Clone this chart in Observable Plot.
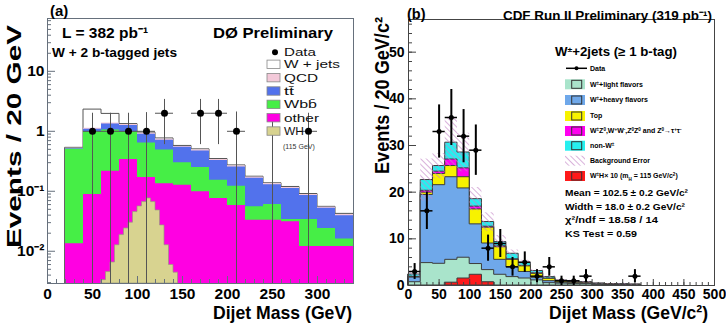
<!DOCTYPE html>
<html><head><meta charset="utf-8">
<script src="https://cdn.jsdelivr.net/npm/d3@7"></script>
<script src="https://cdn.jsdelivr.net/npm/@observablehq/plot@0.6"></script>
<style>
body{margin:0;background:#fff;}
#wrap{position:relative;width:726px;height:326px;overflow:hidden;}
#wrap svg{position:absolute;top:0;}
</style></head><body><div id="wrap"></div>
<script>
// ================= Panel (a): D0, W + 2 b-tagged jets (stacked tops, events / 20 GeV)
const binLoA     = [20,40,60,80,100,120,140,160,180,200,220,240,260,280,300,320];
const wjetsTopA  = [0.53,2.3,1.95,1.32,0.95,0.76,0.57,0.50,0.345,0.27,0.175,0.136,0.118,0.090,0.055,0.042];
const qcdTopA    = [0.52,1.12,1.38,1.30,0.93,0.74,0.56,0.49,0.340,0.265,0.172,0.133,0.116,0.088,0.054,0.041];
const ttTopA     = [0.51,1.08,1.33,1.25,0.89,0.71,0.54,0.47,0.325,0.255,0.165,0.128,0.111,0.085,0.052,0.039];
const wbbTopA    = [0.50,0.98,1.05,0.98,0.64,0.49,0.30,0.25,0.152,0.121,0.055,0.060,0.034,0.034,0.024,0.016];
const otherTopA  = [0.0134,0.088,0.215,0.34,0.17,0.134,0.126,0.098,0.076,0.058,0.033,0.033,0.031,0.012,0.012,0.012];
// WH (115 GeV) signal, 5 GeV bins
const whLoA  = [60,65,70,75,80,85,90,95,100,105,110,115,120,125,130,135,140];
const whValA = [0.0033,0.0045,0.0065,0.0126,0.0186,0.024,0.030,0.045,0.056,0.066,0.076,0.066,0.048,0.027,0.0126,0.0059,0.0044];
// data points and error-bar ends
const dataXA  = [50,70,90,110,130,170,190,210,250,290];
const dataYA  = [1,1,1,1,2,2,2,1,0,1];
const errLoA  = [0,0,0,0,0.6,0.6,0.6,0,0,0];
const errHiA  = [2.0,2.0,2.0,2.05,3.4,3.4,3.4,2.1,1.8,2.0];
const xTicksA = [0,50,100,150,200,250,300];
const yTicksA = [0.01,0.1,1,10];
const yTickLabelsA = ["10\u207B\u00B2","10\u207B\u00B9","1","10"];
const legendLabelsA = ["W + jets", "QCD", "tt\u0304", "Wbb\u0304", "other", "WH"];

// ================= Panel (b): CDF, W+2jets (>=1 b-tag) (stacked tops, events / 20 GeV/c2)
const binLoB    = [0,20,40,60,80,100,120,140,160,180,200,220,240,260,280,300,320,340,360];
const lightTopB = [0.7,4.8,4.65,5.5,5.95,4.6,3.3,2.3,1.8,1.5,1.1,0.5,0.4,0.3,0.3,0.15,0.1,0.08,0.05];
const heavyTopB = [1.7,19.4,21.5,23.2,20.8,13.1,9.0,5.5,3.9,2.9,1.65,0.93,0.6,0.5,0.45,0.25,0.2,0.15,0.1];
const topTopB   = [1.8,19.9,23.9,25.6,23.2,16.3,12.4,8.2,5.5,4.1,2.5,1.43,0.9,0.75,0.6,0.35,0.25,0.2,0.15];
const wzTopB    = [1.85,20.3,24.4,27.0,25.1,16.9,12.6,8.4,5.6,4.2,2.6,1.5,0.95,0.8,0.62,0.37,0.26,0.21,0.16];
const nonWTopB  = [2.35,22.6,25.6,30.6,28.5,18.5,13.6,9.3,6.8,4.8,3.1,1.8,1.07,0.9,0.7,0.4,0.3,0.25,0.2];
const bkgErrB   = [0.5,4.5,2.7,5.2,4.1,2.5,2.0,1.4,0.8,0.6,0.4,0.3,0.2,0.2,0.15,0.1,0.1,0.1,0.1];
const whLoB     = [60,80,100,120];
const whValB    = [0.6,1.5,2.3,0.7];
const dataXB    = [10,30,50,70,90,110,130,150,170,190,210,230,250,270,290,370];
const dataYB    = [3,16,33,36,32,29,8,9,4,5,2,4,1,1,2,2];
const dataErrB  = [1.7,4,5.7,6,5.7,5.4,2.8,3,2,2.2,1.4,2,1,1,1.4,1.4];
const xTicksB   = [0,50,100,150,200,250,300,350,400,450,500];
const yTicksB   = [0,10,20,30,40,50];

// ================= helpers
const FONT = "'Liberation Sans', Arial, Helvetica, sans-serif";
function steps(lo, w, vals) {
  const p = lo.map((x, i) => ({x, y: vals[i]}));
  p.push({x: lo[lo.length - 1] + w, y: vals[vals.length - 1]});
  return p;
}
function steps2(lo, w, c, e) {
  const p = lo.map((x, i) => ({x, y1: c[i] - e[i], y2: c[i] + e[i]}));
  const n = lo.length - 1;
  p.push({x: lo[n] + w, y1: c[n] - e[n], y2: c[n] + e[n]});
  return p;
}
function txt(g, x, y, parts, o = {}) {
  const size = o.size || 12;
  const t = g.append("text")
    .attr("font-size", size).attr("font-weight", o.weight || "bold")
    .attr("text-anchor", o.anchor || "start").attr("fill", o.fill || "#000")
    .attr("font-family", FONT);
  if (o.rotate) t.attr("transform", `translate(${x},${y}) rotate(${o.rotate})`).attr("x", 0).attr("y", size * 0.35);
  else t.attr("x", x).attr("y", y + size * 0.35);
  if (typeof parts === "string") t.text(parts);
  else parts.forEach(p => {
    if (typeof p === "string") t.append("tspan").text(p);
    else {
      const s = t.append("tspan").text(p[0]);
      if (p[1] === "sup") s.attr("baseline-shift", "super").attr("font-size", size * 0.65);
      else if (p[1] === "sub") s.attr("baseline-shift", "sub").attr("font-size", size * 0.65);
    }
  });
  if (o.length) t.attr("textLength", o.length).attr("lengthAdjust", "spacingAndGlyphs");
  return t;
}
const annot = draw => () => { const g = d3.create("svg:g"); draw(g); return g.node(); };

// ================= Panel (a)
const colA = {wjets: "#ffffff", qcd: "#f3c9d9", tt: "#5272ec", wbb: "#46ee46", other: "#ff00e2", wh: "#d8d390", axis: "#66707c"};
const yMinA = 0.0029, yMaxA = 76;
const fwA = 363 - 47 - 10, fhA = 326 - 18 - 43;
const minorYA = [];
for (let e = -3; e <= 1; e++) for (let k = 2; k <= 9; k++) { const v = k * 10 ** e; if (v > yMinA && v < yMaxA) minorYA.push(v); }
const minorXA = d3.range(0, 341, 10);
const ptsA = dataXA.map((x, i) => ({x, y: dataYA[i], lo: Math.max(errLoA[i], yMinA), hi: errHiA[i]}));

const plotA = Plot.plot({
  width: 363, height: 326, marginLeft: 47, marginRight: 10, marginTop: 18, marginBottom: 43,
  style: {fontFamily: FONT, background: "transparent", overflow: "visible"},
  x: {domain: [0, 340]},
  y: {type: "log", domain: [yMinA, yMaxA]},
  marks: [
    Plot.areaY(steps(binLoA, 20, wjetsTopA), {x: "x", y1: yMinA, y2: "y", curve: "step-after", fill: colA.wjets, stroke: "#555", strokeWidth: 1}),
    Plot.areaY(steps(binLoA, 20, qcdTopA), {x: "x", y1: yMinA, y2: "y", curve: "step-after", fill: colA.qcd}),
    Plot.areaY(steps(binLoA, 20, ttTopA), {x: "x", y1: yMinA, y2: "y", curve: "step-after", fill: colA.tt}),
    Plot.areaY(steps(binLoA, 20, wbbTopA), {x: "x", y1: yMinA, y2: "y", curve: "step-after", fill: colA.wbb}),
    Plot.areaY(steps(binLoA, 20, otherTopA), {x: "x", y1: yMinA, y2: "y", curve: "step-after", fill: colA.other}),
    Plot.areaY(steps(whLoA, 5, whValA), {x: "x", y1: yMinA, y2: "y", curve: "step-after", fill: colA.wh, stroke: "#9a9a80", strokeWidth: 0.7}),
    Plot.ruleY(minorYA, {stroke: colA.axis, insetRight: fwA - 4}),
    Plot.ruleY(yTicksA, {stroke: colA.axis, insetRight: fwA - 8}),
    Plot.ruleX(minorXA, {stroke: colA.axis, insetTop: fhA - 4}),
    Plot.ruleX(xTicksA, {stroke: colA.axis, insetTop: fhA - 7}),
    Plot.ruleX(ptsA, {x: "x", y1: "lo", y2: "hi", stroke: "#555", strokeWidth: 1}),
    Plot.ruleY(ptsA.filter(d => d.y > 0), {y: "y", x1: d => d.x - 10, x2: d => d.x + 10, stroke: "#555", strokeWidth: 1}),
    Plot.dot(ptsA.filter(d => d.y > 0), {x: "x", y: "y", r: 3.5, fill: "#000"}),
    Plot.frame({stroke: colA.axis, strokeWidth: 1}),
    Plot.axisX({ticks: xTicksA, tickSize: 0, tickPadding: 4, fontSize: 15.5, fontWeight: "bold", label: null}),
    Plot.axisY({ticks: yTicksA, tickFormat: d => yTickLabelsA[yTicksA.indexOf(d)], tickSize: 0, tickPadding: 3, fontSize: 15.5, fontWeight: "bold", label: null}),
    annot(g => {
      txt(g, 50, 11, "(a)", {size: 15});
      txt(g, 62, 33, "L = 382 pb\u207B\u00B9", {size: 15.5});
      txt(g, 213, 33, "D\u00D8 Preliminary", {size: 15.5, length: 120});
      txt(g, 52, 53, "W + 2 b-tagged jets", {size: 12.5, length: 125});
      txt(g, 14, 136.5, "Events / 20 GeV", {size: 21, rotate: -90, anchor: "middle", length: 223});
      txt(g, 352, 312.5, "Dijet Mass (GeV)", {size: 19, anchor: "end", length: 139});
      // legend
      g.append("circle").attr("cx", 275).attr("cy", 52.3).attr("r", 3).attr("fill", "#000");
      txt(g, 284, 52.3, "Data", {size: 11.5, weight: "normal", fill: "#111", length: 32});
      const fills = [colA.wjets, colA.qcd, colA.tt, colA.wbb, colA.other, colA.wh];
      const lens = [56, 34, 10, 33, 35, 20];
      legendLabelsA.forEach((l, i) => {
        const cy = 64.3 + i * 13.35;
        g.append("rect").attr("x", 267).attr("y", cy - 4.2).attr("width", 13).attr("height", 8.4)
          .attr("fill", fills[i]).attr("stroke", "#888").attr("stroke-width", 0.8);
        txt(g, 284, cy, l, {size: 11.5, weight: "normal", fill: "#111", length: lens[i]});
      });
      txt(g, 283, 146.5, "(115 GeV)", {size: 7, weight: "normal", fill: "#333"});
    })
  ]
});
plotA.style.left = "0px";

// ================= Panel (b)
const colB = {light: "#a9e4cb", heavy: "#6fa8ea", top: "#f7f200", wz: "#ff00f0", nonW: "#26efef", wh: "#ff1a1a", line: "#3c3c3c", axis: "#444"};
const fwB = 363 - 45 - 12, fhB = 326 - 19 - 41;
const minorXB = d3.range(0, 501, 10);
const minorYB = d3.range(0, 57, 2);
const ptsB = dataXB.map((x, i) => ({x, y: dataYB[i], lo: dataYB[i] - dataErrB[i], hi: dataYB[i] + dataErrB[i]}));
const areaB = (vals, fill) => Plot.areaY(steps(binLoB, 20, vals), {x: "x", y1: 0, y2: "y", curve: "step-after", fill, stroke: colB.line, strokeWidth: 1});

const plotB = Plot.plot({
  width: 363, height: 326, marginLeft: 45, marginRight: 12, marginTop: 19, marginBottom: 41,
  style: {fontFamily: FONT, background: "transparent", overflow: "visible"},
  x: {domain: [0, 500]},
  y: {domain: [0, 57]},
  marks: [
    () => {
      const defs = d3.create("svg:defs");
      const p = defs.append("pattern").attr("id", "hatchB").attr("patternUnits", "userSpaceOnUse")
        .attr("width", 4).attr("height", 4).attr("patternTransform", "rotate(-45)");
      p.append("line").attr("x1", 0).attr("y1", 0).attr("x2", 0).attr("y2", 4).attr("stroke", "#c488c8").attr("stroke-width", 1.3);
      return defs.node();
    },
    areaB(nonWTopB, colB.nonW),
    areaB(wzTopB, colB.wz),
    areaB(topTopB, colB.top),
    areaB(heavyTopB, colB.heavy),
    areaB(lightTopB, colB.light),
    Plot.areaY(steps(whLoB, 20, whValB), {x: "x", y1: 0, y2: "y", curve: "step-after", fill: colB.wh, stroke: colB.line, strokeWidth: 1}),
    Plot.areaY(steps2(binLoB, 20, nonWTopB, bkgErrB), {x: "x", y1: "y1", y2: "y2", curve: "step-after", fill: "url(#hatchB)"}),
    Plot.ruleY(minorYB, {stroke: colB.axis, insetRight: fwB - 4}),
    Plot.ruleY(yTicksB, {stroke: colB.axis, insetRight: fwB - 8}),
    Plot.ruleX(minorXB, {stroke: colB.axis, insetTop: fhB - 3}),
    Plot.ruleX(xTicksB, {stroke: colB.axis, insetTop: fhB - 6}),
    Plot.ruleX(ptsB, {x: "x", y1: "lo", y2: "hi", stroke: "#000", strokeWidth: 2}),
    Plot.ruleY(ptsB, {y: "y", x1: d => d.x - 10, x2: d => d.x + 10, stroke: "#000", strokeWidth: 1.5}),
    Plot.dot(ptsB, {x: "x", y: "y", r: 2.5, fill: "#000"}),
    Plot.frame({stroke: colB.axis, strokeWidth: 1}),
    Plot.axisX({ticks: xTicksB, tickSize: 0, tickPadding: 4, fontSize: 14, fontWeight: "bold", label: null}),
    Plot.axisY({ticks: yTicksB, tickSize: 0, tickPadding: 4, fontSize: 14, fontWeight: "bold", label: null}),
    annot(g => {
      txt(g, 44, 14, "(b)", {size: 14.5});
      txt(g, 349, 15, "CDF Run II Preliminary (319 pb\u207B\u00B9)", {size: 13, anchor: "end", length: 209});
      txt(g, 18.5, 95.5, "Events / 20 GeV/c\u00B2", {size: 20, rotate: -90, anchor: "middle", length: 157});
      txt(g, 345, 312.8, "Dijet Mass (GeV/c\u00B2)", {size: 18.5, anchor: "end", length: 159});
      txt(g, 192, 52, ["W", ["\u00B1", "sup"], "+2jets (\u2265 1 b-tag)"], {size: 12.5, length: 122});
      // legend
      g.append("line").attr("x1", 203).attr("x2", 224).attr("y1", 68.3).attr("y2", 68.3).attr("stroke", "#000").attr("stroke-width", 1.5);
      g.append("circle").attr("cx", 213.5).attr("cy", 68.3).attr("r", 2).attr("fill", "#000");
      txt(g, 227, 68.3, "Data", {size: 7});
      const rows = [
        {fill: colB.light, lab: ["W", ["\u00B1", "sup"], "+light flavors"]},
        {fill: colB.heavy, lab: ["W", ["\u00B1", "sup"], "+heavy flavors"]},
        {fill: colB.top, lab: "Top"},
        {fill: colB.wz, lab: ["W", ["\u00B1", "sup"], "Z", ["0", "sup"], ",W", ["+", "sup"], "W", ["-", "sup"], ",Z", ["0", "sup"], "Z", ["0", "sup"], " and Z", ["0", "sup"], "\u2192\u03C4", ["+", "sup"], "\u03C4", ["-", "sup"]]},
        {fill: colB.nonW, lab: ["non-W", ["\u00B1", "sup"]]},
        {fill: "url(#hatchB)", lab: "Background Error", hatch: true},
        {fill: colB.wh, lab: ["W", ["\u00B1", "sup"], "H\u00D7 10 (m", ["H", "sub"], " = 115 GeV/c", ["2", "sup"], ")"]}
      ];
      const ys = [84.3, 100, 116, 131, 145.7, 160.7, 176];
      rows.forEach((r, i) => {
        const cy = ys[i];
        g.append("rect").attr("x", 202).attr("y", cy - 5).attr("width", 20).attr("height", 10).attr("fill", r.fill);
        if (!r.hatch) g.append("rect").attr("x", 208.7).attr("y", cy - 4).attr("width", 10).attr("height", 8)
          .attr("fill", "none").attr("stroke", "#333").attr("stroke-width", 1);
        txt(g, 227, cy, r.lab, {size: 7});
      });
      txt(g, 202, 192.7, "Mean = 102.5 \u00B1 0.2 GeV/c\u00B2", {size: 9.5, length: 123});
      txt(g, 202, 206.7, "Width = 18.0 \u00B1 0.2 GeV/c\u00B2", {size: 9.5, length: 120});
      txt(g, 202, 220, "\u03C7\u00B2/ndf = 18.58 / 14", {size: 9.5, length: 93});
      txt(g, 202, 233.5, "KS Test = 0.59", {size: 9.5, length: 72});
    })
  ]
});
plotB.style.left = "363px";

const wrap = document.getElementById("wrap");
wrap.appendChild(plotA);
wrap.appendChild(plotB);
</script></body></html>
